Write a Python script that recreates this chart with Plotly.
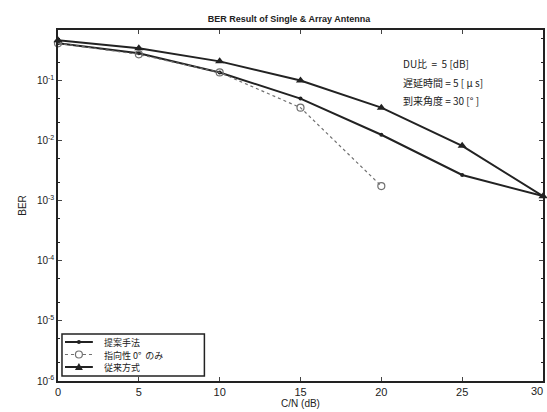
import plotly.graph_objects as go

# C/N values (dB) and bit error rates for each scheme
cn_db = [0, 5, 10, 15, 20, 25, 30]
ber_proposed = [0.416, 0.283, 0.136, 0.050, 0.0125, 0.00268, 0.00119]
cn_db_dir = [0, 5, 10, 15, 20]
ber_directional = [0.416, 0.272, 0.136, 0.0353, 0.00175]
ber_conventional = [0.467, 0.343, 0.208, 0.100, 0.0353, 0.00818, 0.00119]

name_proposed = "提案手法"
name_directional = "指向性 0°  のみ"
name_conventional = "従来方式"

y_tick_vals = [1e-6, 1e-5, 1e-4, 1e-3, 1e-2, 1e-1]
y_tick_text = ["10<sup>-6</sup>", "10<sup>-5</sup>", "10<sup>-4</sup>",
               "10<sup>-3</sup>", "10<sup>-2</sup>", "10<sup>-1</sup>"]
x_tick_vals = [0, 5, 10, 15, 20, 25, 30]

cond_lines = ["DU比  =  5 [dB]", "遅延時間 = 5 [ μ s]", "到来角度 = 30 [° ]"]

FONT = "Liberation Sans, Noto Sans CJK JP, sans-serif"
CJK = "Noto Sans CJK JP, Liberation Sans, sans-serif"
INK = "#222222"
GREY = "#707070"

W, H = 547, 412
ML, MR, MT, MB = 58, 2, 30, 31
pw, ph = W - ML - MR, H - MT - MB


def px(xpix):
    return (xpix - ML) / pw


def py(ypix):
    return 1 - (ypix - MT) / ph


styles = {
    name_proposed: dict(line=dict(color=INK, width=2),
                        marker=dict(symbol="circle", size=4, color=INK)),
    name_directional: dict(line=dict(color=GREY, width=1.2, dash="dot"),
                           marker=dict(symbol="circle-open", size=7, color=GREY,
                                       line=dict(width=1.2))),
    name_conventional: dict(line=dict(color=INK, width=2),
                            marker=dict(symbol="triangle-up", size=8, color=INK)),
}

fig = go.Figure()
for name, xs, ys in [(name_proposed, cn_db, ber_proposed),
                     (name_directional, cn_db_dir, ber_directional),
                     (name_conventional, cn_db, ber_conventional)]:
    fig.add_trace(go.Scatter(x=xs, y=ys, name=name, mode="lines+markers",
                             cliponaxis=False, showlegend=False, **styles[name]))

# condition notes in the upper right
for i, txt in enumerate(cond_lines):
    fig.add_annotation(
        x=px(402), y=py(64 + 18 * i), xref="paper", yref="paper", text=txt,
        showarrow=False, xanchor="left", yanchor="middle",
        font=dict(family=CJK, size=10, color=INK),
    )

# compact legend box in the lower left
shapes = [dict(type="rect", xref="paper", yref="paper",
               x0=px(62), x1=px(205), y0=py(376), y1=py(334),
               line=dict(color=INK, width=1.5), fillcolor="white", layer="above")]
annotations = []
for i, name in enumerate([name_proposed, name_directional, name_conventional]):
    yy = 342 + 12.5 * i
    st = styles[name]
    shapes.append(dict(type="line", xref="paper", yref="paper",
                       x0=px(65), x1=px(93), y0=py(yy), y1=py(yy),
                       line=dict(color=st["line"]["color"], width=st["line"]["width"],
                                 dash=st["line"].get("dash", "solid")),
                       layer="above"))
    cx = 79
    if name == name_proposed:
        shapes.append(dict(type="circle", xref="paper", yref="paper",
                           x0=px(cx - 2), x1=px(cx + 2), y0=py(yy + 2), y1=py(yy - 2),
                           fillcolor=INK, line=dict(color=INK, width=0), layer="above"))
    elif name == name_directional:
        shapes.append(dict(type="circle", xref="paper", yref="paper",
                           x0=px(cx - 3.5), x1=px(cx + 3.5), y0=py(yy + 3.5), y1=py(yy - 3.5),
                           fillcolor="white", line=dict(color=GREY, width=1.2), layer="above"))
    else:
        x0, x1, x2 = px(cx - 4), px(cx + 4), px(cx)
        y0, y1 = py(yy + 3), py(yy - 4)
        shapes.append(dict(type="path", xref="paper", yref="paper",
                           path=f"M {x0} {y0} L {x1} {y0} L {x2} {y1} Z",
                           fillcolor=INK, line=dict(color=INK, width=0), layer="above"))
    annotations.append(dict(x=px(102), y=py(yy), xref="paper", yref="paper",
                            text=name, showarrow=False, xanchor="left", yanchor="middle",
                            height=12, valign="middle",
                            font=dict(family=CJK, size=9, color=INK)))

# last x tick label sits at the very right edge
annotations.append(dict(x=30, y=0, xref="x", yref="paper", text="30",
                        showarrow=False, xanchor="right", yanchor="top",
                        xshift=2, yshift=-2,
                        font=dict(family=FONT, size=11, color=INK)))

for a in annotations:
    fig.add_annotation(**a)

fig.update_layout(
    width=W, height=H,
    margin=dict(l=ML, r=MR, t=MT, b=MB, pad=0),
    paper_bgcolor="white", plot_bgcolor="white",
    font=dict(family=FONT, size=10, color=INK),
    title=dict(text="<b>BER Result of Single &amp; Array Antenna</b>",
               x=px(290), xref="paper", xanchor="center",
               y=1 - 19 / H, yanchor="middle",
               font=dict(family=FONT, size=9, color=INK)),
    showlegend=False,
    shapes=shapes,
    xaxis=dict(
        range=[0, 30], tickvals=x_tick_vals[:-1], ticks="inside", ticklen=4,
        showline=True, linecolor=INK, linewidth=1.5, mirror="ticks",
        showgrid=False, zeroline=False,
        tickfont=dict(family=FONT, size=11, color=INK),
        title=dict(text="C/N (dB)", standoff=2,
                   font=dict(family=FONT, size=10, color=INK)),
    ),
    yaxis=dict(
        type="log", range=[-6, -0.16],
        tickvals=y_tick_vals, ticktext=y_tick_text,
        ticks="inside", ticklen=4,
        minor=dict(ticks="inside", ticklen=2, tickcolor=INK, showgrid=False),
        showline=True, linecolor=INK, linewidth=1.5, mirror="ticks",
        showgrid=False, zeroline=False,
        tickfont=dict(family=FONT, size=10, color=INK),
        title=dict(text="BER", standoff=8,
                   font=dict(family=FONT, size=10, color=INK)),
    ),
)

fig.write_html("out.html")
